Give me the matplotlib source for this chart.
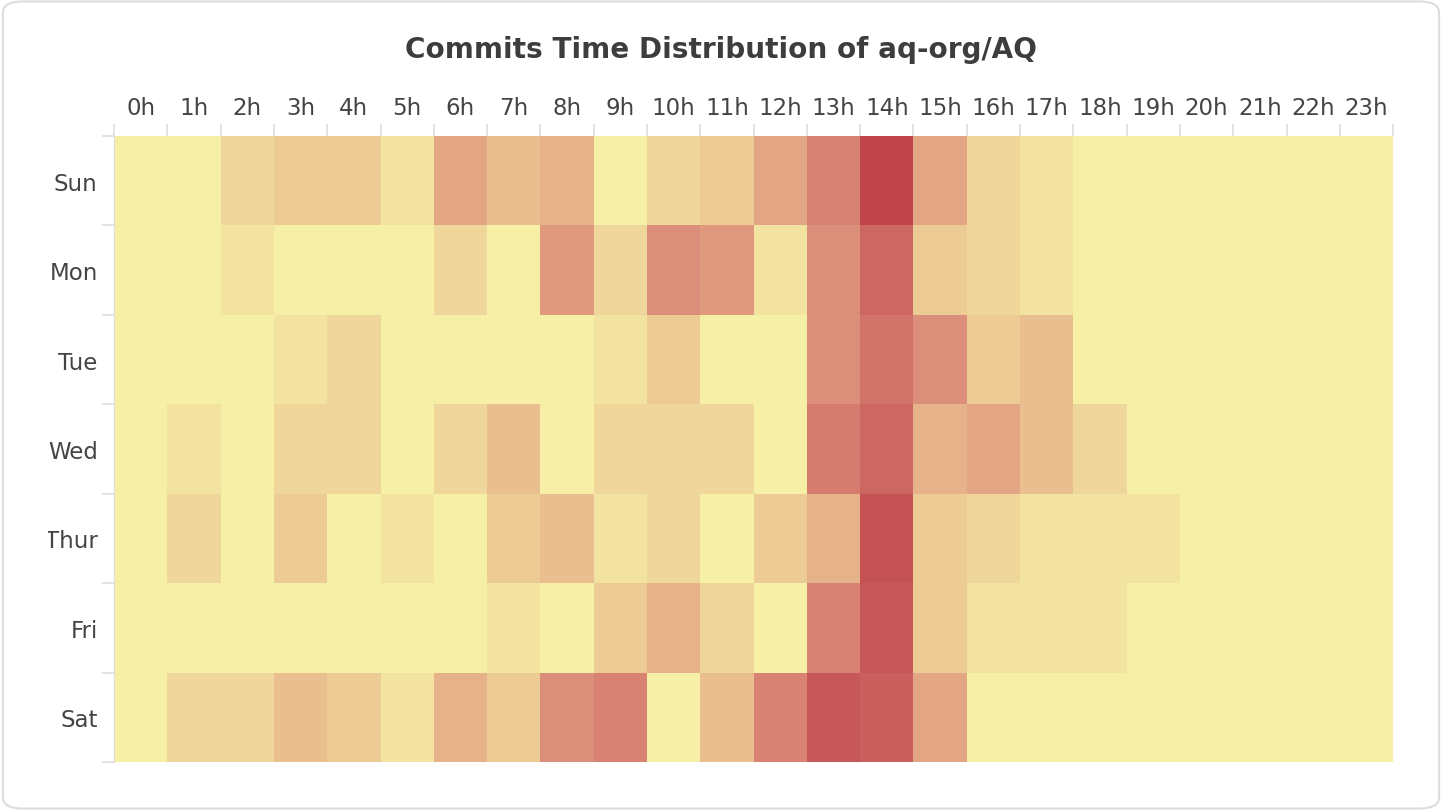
import matplotlib
matplotlib.use("Agg")
import matplotlib.pyplot as plt
import numpy as np
from matplotlib.colors import LinearSegmentedColormap
from matplotlib.patches import FancyBboxPatch
from matplotlib.transforms import Bbox

hours = [f"{h}h" for h in range(24)]
days = ["Sun", "Mon", "Tue", "Wed", "Thur", "Fri", "Sat"]

# commits per weekday / hour
sun = [0, 0, 2, 3, 3, 1, 6, 4, 5, 0, 2, 3, 6, 9, 18, 6, 2, 1, 0, 0, 0, 0, 0, 0]
mon = [0, 0, 1, 0, 0, 0, 2, 0, 7, 2, 8, 7, 1, 8, 13, 3, 2, 1, 0, 0, 0, 0, 0, 0]
tue = [0, 0, 0, 1, 2, 0, 0, 0, 0, 1, 3, 0, 0, 8, 11, 8, 3, 4, 0, 0, 0, 0, 0, 0]
wed = [0, 1, 0, 2, 2, 0, 2, 4, 0, 2, 2, 2, 0, 10, 13, 5, 6, 4, 2, 0, 0, 0, 0, 0]
thu = [0, 2, 0, 3, 0, 1, 0, 3, 4, 1, 2, 0, 3, 5, 16, 3, 2, 1, 1, 1, 0, 0, 0, 0]
fri = [0, 0, 0, 0, 0, 0, 0, 1, 0, 3, 5, 2, 0, 9, 15, 3, 1, 1, 1, 0, 0, 0, 0, 0]
sat = [0, 2, 2, 4, 3, 1, 5, 3, 8, 9, 0, 4, 9, 15, 14, 6, 0, 0, 0, 0, 0, 0, 0, 0]

grid = np.array([sun, mon, tue, wed, thu, fri, sat])

cmap = LinearSegmentedColormap.from_list("ec", ["#f6efa6", "#d88273", "#bf444c"])

fig = plt.figure(figsize=(14.42, 8.12), dpi=100)
fig.patches.append(FancyBboxPatch((0.002, 0.003), 0.996, 0.994,
                                  boxstyle="round,pad=0,rounding_size=0.014",
                                  transform=fig.transFigure, fc="white",
                                  ec="#dddddd", lw=1.5, zorder=-1))

ax = fig.add_axes([0.0791, 0.0603, 0.887, 0.771])
ax.pcolormesh(grid, cmap=cmap, vmin=0, vmax=grid.max())
ax.set_xlim(0, 24)
ax.set_ylim(7, 0)

ax.xaxis.tick_top()
ax.set_xticks(np.arange(25))
ax.set_xticklabels([])
ax.set_xticks(np.arange(24) + 0.5, minor=True)
ax.set_xticklabels(hours, minor=True, fontsize=16.5, color="#444444")
ax.set_yticks(np.arange(8))
ax.set_yticklabels([])
ax.set_yticks(np.arange(7) + 0.5, minor=True)
ax.set_yticklabels(days, minor=True, fontsize=16.5, color="#444444")

ax.tick_params(which="major", length=9, color="#dddddd", width=1.2)
ax.tick_params(axis="y", which="minor", length=0, pad=11.8)
ax.tick_params(axis="x", which="minor", length=0, pad=12)

# long day names get cut at the left edge, like the original
clip = Bbox.from_extents(48, 0, 1442, 812)
for lab in ax.get_yticklabels(minor=True):
    lab.set_clip_box(clip)
    lab.set_clip_on(True)

for s in ["right", "bottom", "top"]:
    ax.spines[s].set_visible(False)
ax.spines["left"].set_color("#dddddd")

fig.text(0.5, 0.938, "Commits Time Distribution of aq-org/AQ", ha="center",
         va="center", fontsize=20.1, fontweight="bold", color="#3d3d3d")

fig.savefig("out.png", dpi=100)
